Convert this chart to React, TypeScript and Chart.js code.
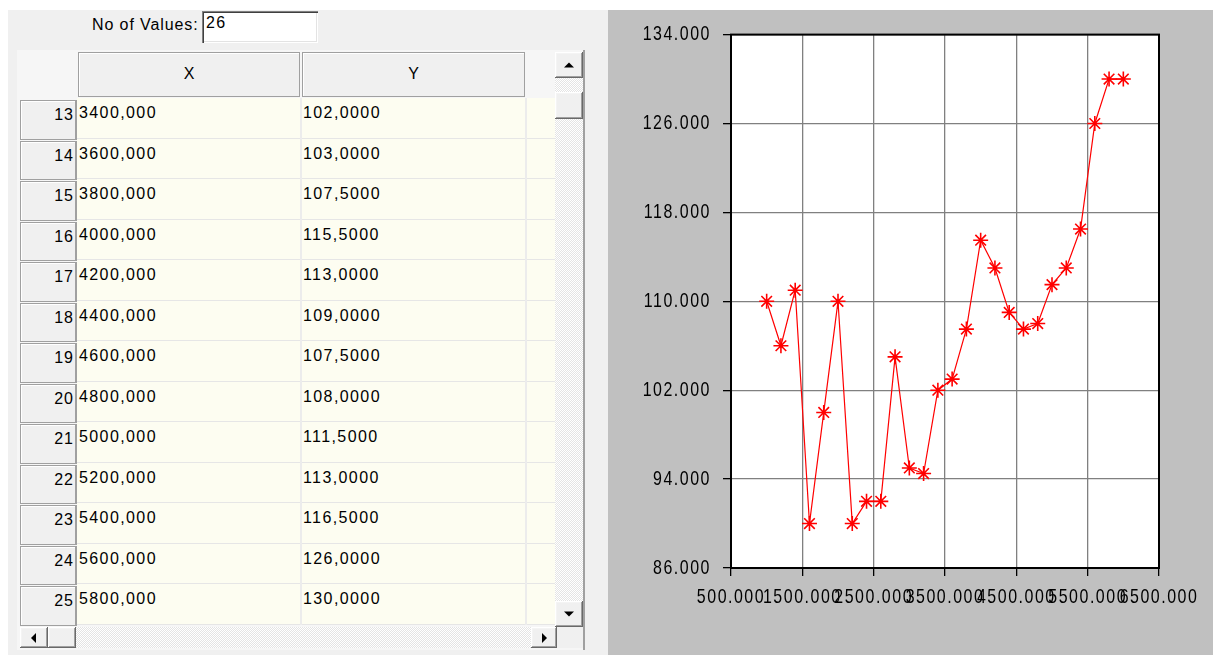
import React, { useEffect, useRef } from "react";
import { Chart, registerables } from "chart.js";

Chart.register(...registerables);

// ---- data ----
const xValues = [1000, 1200, 1400, 1600, 1800, 2000, 2200, 2400, 2600, 2800, 3000, 3200, 3400, 3600, 3800, 4000, 4200, 4400, 4600, 4800, 5000, 5200, 5400, 5600, 5800, 6000];
const yValues = [110, 106, 111, 90, 100, 110, 90, 92, 92, 105, 95, 94.5, 102, 103, 107.5, 115.5, 113, 109, 107.5, 108, 111.5, 113, 116.5, 126, 130, 130];
const xTickValues = [500, 1500, 2500, 3500, 4500, 5500, 6500];
const yTickValues = [86, 94, 102, 110, 118, 126, 134];
const visibleRowNumbers = [13, 14, 15, 16, 17, 18, 19, 20, 21, 22, 23, 24, 25];
const columnHeaders = ["X", "Y"];
const countLabel = "No of Values:";

const uiFont = "'Liberation Sans', Arial, sans-serif";
const chartFont = "'Liberation Sans', Arial, sans-serif";
const textSqueeze = 0.76;

const raised: React.CSSProperties = {
  position: "absolute",
  boxSizing: "border-box",
  background: "#f0f0f0",
  boxShadow: "inset -1px -1px #696969, inset 1px 1px #ffffff, inset -2px -2px #a0a0a0, inset 2px 2px #f4f4f4",
};

const checker: React.CSSProperties = {
  position: "absolute",
  background: "repeating-conic-gradient(#ffffff 0% 25%, #e4e4e4 0% 50%) 0 0 / 2px 2px",
};

function Tri({ dir }: { dir: "up" | "down" | "left" | "right" }) {
  const s: React.CSSProperties = { position: "absolute", width: 0, height: 0, left: "50%", top: "50%" };
  if (dir === "up") Object.assign(s, { borderLeft: "5px solid transparent", borderRight: "5px solid transparent", borderBottom: "5px solid #000", transform: "translate(-50%,-50%)" });
  if (dir === "down") Object.assign(s, { borderLeft: "5px solid transparent", borderRight: "5px solid transparent", borderTop: "5px solid #000", transform: "translate(-50%,-50%)" });
  if (dir === "left") Object.assign(s, { borderTop: "5px solid transparent", borderBottom: "5px solid transparent", borderRight: "5px solid #000", transform: "translate(-60%,-50%)" });
  if (dir === "right") Object.assign(s, { borderTop: "5px solid transparent", borderBottom: "5px solid transparent", borderLeft: "5px solid #000", transform: "translate(-40%,-50%)" });
  return <div style={s} />;
}

function ChartPanel() {
  const ref = useRef<HTMLCanvasElement | null>(null);
  useEffect(() => {
    if (!ref.current) return;
    const c2d = ref.current.getContext("2d") as any;
    const origFill = CanvasRenderingContext2D.prototype.fillText;
    // condensed rendering of axis labels (Windows-like narrow digits)
    c2d.fillText = function (text: string, x: number, y: number, maxWidth?: number) {
      this.save();
      this.translate(x, y);
      this.scale(textSqueeze, 1);
      if (maxWidth === undefined) origFill.call(this, text, 0, 0);
      else origFill.call(this, text, 0, 0, maxWidth / textSqueeze);
      this.restore();
    };
    const framePlugin = {
      id: "frame",
      beforeDraw(chart: any) {
        const { ctx, chartArea } = chart;
        ctx.letterSpacing = "2px";
        ctx.save();
        ctx.fillStyle = "#ffffff";
        ctx.fillRect(chartArea.left, chartArea.top, chartArea.right - chartArea.left, chartArea.bottom - chartArea.top);
        ctx.restore();
      },
      beforeDatasetsDraw(chart: any) {
        const { ctx, chartArea } = chart;
        ctx.save();
        ctx.strokeStyle = "#000000";
        ctx.lineWidth = 2;
        ctx.strokeRect(chartArea.left, chartArea.top, chartArea.right - chartArea.left, chartArea.bottom - chartArea.top);
        ctx.restore();
      },
    };
    const chart = new Chart(ref.current, {
      type: "line",
      data: {
        datasets: [
          {
            data: xValues.map((x, i) => ({ x, y: yValues[i] })),
            borderColor: "#ff0000",
            borderWidth: 1.2,
            pointStyle: "star",
            pointRadius: 7.5,
            pointBorderColor: "#ff0000",
            pointBackgroundColor: "#ff0000",
            pointBorderWidth: 1.6,
            tension: 0,
            fill: false,
          },
        ],
      },
      options: {
        animation: false,
        responsive: false,
        events: [],
        layout: { padding: { top: 24, right: 54, left: 0, bottom: 0 } },
        plugins: { legend: { display: false }, tooltip: { enabled: false }, title: { display: false } },
        scales: {
          x: {
            type: "linear",
            min: 500,
            max: 6500,
            afterBuildTicks: (s: any) => {
              s.ticks = xTickValues.map((v) => ({ value: v }));
            },
            afterFit: (s: any) => {
              s.height = 87;
            },
            ticks: {
              autoSkip: false,
              maxRotation: 0,
              minRotation: 0,
              padding: 9,
              color: "#000",
              font: { family: chartFont, size: 21 },
              callback: (v: any) => Number(v).toFixed(3),
            },
            grid: { color: "#808080", lineWidth: 1.3, tickLength: 8, tickColor: "#000", tickWidth: 1.3 },
            border: { color: "#000", width: 2 },
          },
          y: {
            type: "linear",
            min: 86,
            max: 134,
            afterBuildTicks: (s: any) => {
              s.ticks = yTickValues.map((v) => ({ value: v }));
            },
            afterFit: (s: any) => {
              s.width = 123;
            },
            ticks: {
              autoSkip: false,
              padding: 12,
              color: "#000",
              font: { family: chartFont, size: 21 },
              callback: (v: any) => Number(v).toFixed(3),
            },
            grid: { color: "#808080", lineWidth: 1.3, tickLength: 8, tickColor: "#000", tickWidth: 1.3 },
            border: { color: "#000", width: 2 },
          },
        },
      },
      plugins: [framePlugin],
    } as any);
    return () => {
      chart.destroy();
      delete c2d.fillText;
    };
  }, []);
  return <canvas ref={ref} width={605} height={645} style={{ position: "absolute", left: 0, top: 0, width: 605, height: 645 }} />;
}

export default function App() {
  const rowTop = (i: number) => Math.round(100 + i * 40.5);
  const cellText: React.CSSProperties = { fontFamily: uiFont, fontSize: 16, letterSpacing: 1.4, color: "#000", lineHeight: "18px" };
  return (
    <div style={{ position: "absolute", left: 0, top: 0, width: 1213, height: 655, background: "#ffffff", overflow: "hidden" }}>
      {/* left panel */}
      <div style={{ position: "absolute", left: 8, top: 10, width: 600, height: 645, background: "#f0f0f0" }} />
      <div style={{ position: "absolute", left: 92, top: 16, ...cellText, letterSpacing: 0.9 }}>{countLabel}</div>
      <div
        style={{
          position: "absolute",
          left: 202,
          top: 11,
          width: 116,
          height: 32,
          boxSizing: "border-box",
          background: "#ffffff",
          boxShadow: "inset 1px 1px #808080, inset 2px 2px #404040, inset -1px -1px #ffffff, inset -2px -2px #e3e3e3",
        }}
      >
        <div style={{ position: "absolute", left: 4, top: 3, ...cellText }}>{String(xValues.length)}</div>
      </div>

      {/* grid area */}
      <div style={{ position: "absolute", left: 17, top: 50, width: 568, height: 600, background: "#f6f6f6" }} />

      {/* headers */}
      {columnHeaders.map((h, c) => (
        <div
          key={h}
          style={{
            position: "absolute",
            left: c === 0 ? 78 : 302,
            top: 52,
            width: c === 0 ? 222 : 223,
            height: 45,
            boxSizing: "border-box",
            background: "#f0f0f0",
            border: "1px solid #a0a0a0",
            boxShadow: "inset 1px 1px #ffffff",
            textAlign: "center",
            paddingTop: 12,
            ...cellText,
            letterSpacing: 0,
          }}
        >
          {h}
        </div>
      ))}

      {/* rows */}
      {visibleRowNumbers.map((n, i) => {
        const top = rowTop(i);
        const h = rowTop(i + 1) - top;
        const idx = n - 1;
        const xs = xValues[idx].toFixed(3).replace(".", ",");
        const ys = yValues[idx].toFixed(4).replace(".", ",");
        return (
          <React.Fragment key={n}>
            <div
              style={{
                position: "absolute",
                left: 20,
                top,
                width: 57,
                height: h - 1,
                boxSizing: "border-box",
                background: "#f0f0f0",
                border: "1px solid #a0a0a0",
                borderRight: "2px solid #a0a0a0",
                boxShadow: "inset 1px 1px #ffffff",
                textAlign: "right",
                paddingRight: 1,
                paddingTop: 5,
                ...cellText,
                letterSpacing: 1,
              }}
            >
              {n}
            </div>
            <div
              style={{
                position: "absolute",
                left: 77,
                top: top - 2,
                width: 478,
                height: h,
                boxSizing: "border-box",
                background: "#fdfdf1",
                borderBottom: "1px solid #e6e6e6",
              }}
            />
            <div style={{ position: "absolute", left: 300, top: top - 2, width: 2, height: h, background: "#ececec" }} />
            <div style={{ position: "absolute", left: 525, top: top - 2, width: 2, height: h, background: "#ececec" }} />
            <div style={{ position: "absolute", left: 79, top: top + 4, ...cellText }}>{xs}</div>
            <div style={{ position: "absolute", left: 303, top: top + 4, ...cellText }}>{ys}</div>
          </React.Fragment>
        );
      })}

      {/* vertical scrollbar */}
      <div style={{ ...checker, left: 555, top: 52, width: 28, height: 575 }} />
      <div style={{ ...raised, left: 555, top: 52, width: 28, height: 26 }}>
        <Tri dir="up" />
      </div>
      <div style={{ ...raised, left: 555, top: 92, width: 28, height: 27 }} />
      <div style={{ ...raised, left: 555, top: 601, width: 28, height: 26 }}>
        <Tri dir="down" />
      </div>
      <div style={{ position: "absolute", left: 583, top: 50, width: 2, height: 600, background: "#a0a0a0" }} />

      {/* horizontal scrollbar */}
      <div style={{ ...checker, left: 76, top: 627, width: 455, height: 21 }} />
      <div style={{ ...raised, left: 20, top: 627, width: 28, height: 21 }}>
        <Tri dir="left" />
      </div>
      <div style={{ ...raised, left: 48, top: 627, width: 28, height: 21 }} />
      <div style={{ ...raised, left: 531, top: 627, width: 26, height: 21 }}>
        <Tri dir="right" />
      </div>
      <div style={{ position: "absolute", left: 557, top: 627, width: 26, height: 21, background: "#f0f0f0" }} />

      {/* right chart panel */}
      <div style={{ position: "absolute", left: 608, top: 10, width: 605, height: 645, background: "#c0c0c0" }}>
        <ChartPanel />
      </div>
    </div>
  );
}
